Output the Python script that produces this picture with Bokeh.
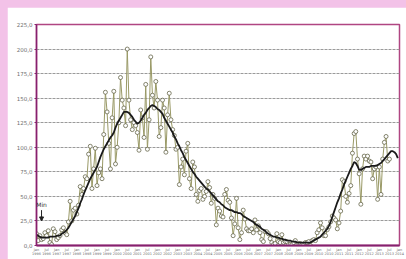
from bokeh.plotting import figure
from bokeh.models import FixedTicker, Range1d, Arrow, NormalHead, Label, ColumnDataSource
from bokeh.embed import file_html
from bokeh.resources import INLINE

# ---- data (monthly, starting Jan 1996) ----
start_year = 1996
monthly = [
    12, 5, 10, 6, 7, 13, 10, 15, 3, 1, 17, 14,            # 1996
    6, 8, 10, 16, 18, 13, 11, 24, 45, 25, 36, 38,          # 1997
    32, 41, 60, 52, 58, 70, 68, 93, 101, 58, 78, 99,       # 1998
    61, 74, 78, 68, 113, 156, 136, 104, 78, 130, 157, 83,  # 1999
    100, 125, 171, 148, 140, 122, 200, 148, 128, 118, 125, 122,  # 2000
    115, 97, 138, 130, 110, 164, 98, 128, 192, 153, 140, 167,    # 2001
    148, 111, 120, 148, 140, 95, 133, 155, 128, 118, 112, 98,    # 2002
    100, 62, 80, 88, 72, 96, 104, 68, 58, 85, 80, 52,      # 2003
    45, 56, 58, 47, 50, 55, 65, 59, 43, 52, 48, 21,        # 2004
    38, 35, 30, 29, 52, 57, 46, 44, 28, 10, 22, 48,        # 2005
    18, 6, 13, 36, 27, 17, 15, 15, 17, 13, 26, 16,         # 2006
    20, 13, 6, 4, 14, 14, 12, 7, 3, 1, 2, 12,              # 2007
    4, 3, 11, 3, 4, 4, 1, 1, 1, 3, 5, 1,                   # 2008
    2, 2, 1, 1, 3, 3, 4, 0, 5, 6, 5, 13,                   # 2009
    16, 23, 18, 10, 10, 16, 19, 24, 30, 28, 26, 17,        # 2010
    23, 35, 67, 65, 50, 44, 53, 61, 94, 114, 116, 88,      # 2011
    73, 42, 78, 91, 88, 91, 86, 85, 68, 78, 80, 47,        # 2012
    80, 52, 88, 105, 111, 86, 88,                          # 2013
]
smoothed = [
    11, 10, 9, 8, 8, 8, 8, 8, 9, 9, 9, 9,
    10, 10, 10, 12, 13, 14, 16, 18, 21, 24, 27, 30,
    34, 38, 43, 47, 52, 56, 60, 64, 68, 71, 74, 77,
    80, 85, 90, 94, 98, 101, 104, 107, 110, 112, 115, 120,
    124, 127, 130, 133, 136, 136, 136, 135, 133, 131, 128, 126,
    124, 125, 127, 130, 133, 135, 138, 140, 142, 143, 142, 141,
    139, 138, 136, 134, 130, 127, 124, 121, 118, 115, 111, 108,
    104, 101, 97, 94, 90, 87, 84, 81, 78, 75, 73, 70,
    68, 66, 64, 62, 60, 58, 57, 55, 53, 51, 49, 47,
    45, 44, 42, 41, 39, 38, 37, 36, 36, 35, 34, 34,
    33, 33, 32, 30, 29, 28, 27, 26, 25, 24, 22, 21,
    20, 19, 17, 16, 15, 13, 12, 11, 10, 9, 9, 8,
    8, 7, 7, 6, 6, 5, 5, 5, 4, 4, 4, 3,
    3, 3, 3, 3, 3, 3, 3, 3, 4, 5, 6, 7,
    8, 9, 11, 13, 15, 17, 20, 24, 29, 34, 39, 44,
    48, 53, 57, 62, 66, 70, 74, 78, 81, 85, 84, 81,
    77, 77, 78, 79, 80, 80, 80, 81, 81, 81, 81, 82,
    83, 84, 86, 88, 90, 92, 94, 96, 96, 95, 93, 89,
]
y_ticks = [0, 25, 50, 75, 100, 125, 150, 175, 200, 225]
y_labels = ["0,0", "25,0", "50,0", "75,0", "100,0", "125,0", "150,0", "175,0", "200,0", "225,0"]
n_months_axis = 216
x_ticks = list(range(0, n_months_axis + 1, 6))
x_labels = [("Jan" if t % 12 == 0 else "Jul") + "\n" + str(start_year + t // 12) for t in x_ticks]
min_label = "Min"

m_idx = list(range(len(monthly)))
s_idx = list(range(len(smoothed)))

p = figure(width=399, height=252, x_range=Range1d(0, n_months_axis), y_range=Range1d(0, 225),
           output_backend="svg", toolbar_location=None,
           min_border_left=29, min_border_top=17, min_border_right=7, min_border_bottom=11)
p.background_fill_color = "white"
p.border_fill_color = "white"
p.outline_line_color = "#b04682"
p.outline_line_width = 1.5

p.xgrid.visible = False
p.ygrid.ticker = FixedTicker(ticks=y_ticks)
p.ygrid.grid_line_color = "#9a9a9a"
p.ygrid.grid_line_dash = "3 1"
p.ygrid.grid_line_width = 1

p.yaxis.ticker = FixedTicker(ticks=y_ticks)
p.yaxis.major_label_overrides = {t: l for t, l in zip(y_ticks, y_labels)}
p.yaxis.major_label_text_font_size = "5.5px"
p.yaxis.major_label_text_color = "#707070"
p.yaxis.major_label_text_font = "DejaVu Sans"
p.yaxis.axis_line_color = "#86206e"
p.yaxis.axis_line_width = 1.5
p.yaxis.major_tick_out = 2
p.yaxis.major_tick_in = 0
p.yaxis.major_tick_line_color = "#86206e"
p.yaxis.minor_tick_line_color = None
p.yaxis.major_label_standoff = 2

p.xaxis.ticker = FixedTicker(ticks=x_ticks)
p.xaxis.major_label_overrides = {t: l for t, l in zip(x_ticks, x_labels)}
p.xaxis.major_label_text_font_size = "3.5px"
p.xaxis.major_label_text_color = "#707070"
p.xaxis.major_label_text_font = "DejaVu Sans"
p.xaxis.axis_line_color = "#86206e"
p.xaxis.axis_line_width = 2
p.xaxis.major_tick_out = 0
p.xaxis.major_tick_in = 0
p.xaxis.minor_tick_line_color = None
p.xaxis.major_label_standoff = 2

src = ColumnDataSource(dict(m=m_idx, v=monthly))
p.line("m", "v", source=src, line_color="#999966", line_width=1)
p.scatter("m", "v", source=src, size=4, marker="circle", fill_color="white",
          line_color="#66664a", line_width=0.8)
p.line(s_idx, smoothed, line_color="#1a1a1a", line_width=1.8)

min_m = smoothed.index(min(smoothed[:24]))
p.add_layout(Arrow(end=NormalHead(size=4, fill_color="#222222", line_color="#222222"),
                   x_start=min_m, y_start=36, x_end=min_m, y_end=25,
                   line_color="#222222", line_width=1))
p.add_layout(Label(x=min_m, y=38, text=min_label, text_font_size="6px", text_align="center",
                   text_color="#333333", text_font="DejaVu Sans"))

html = file_html(p, INLINE)
style = ("<style>html,body{margin:0 !important;} "
         "body{background:#f3c2e8 !important;padding:7px 0 0 7px !important;}</style>")
html = html.replace("</head>", style + "</head>", 1)
open("out.html", "w").write(html)
